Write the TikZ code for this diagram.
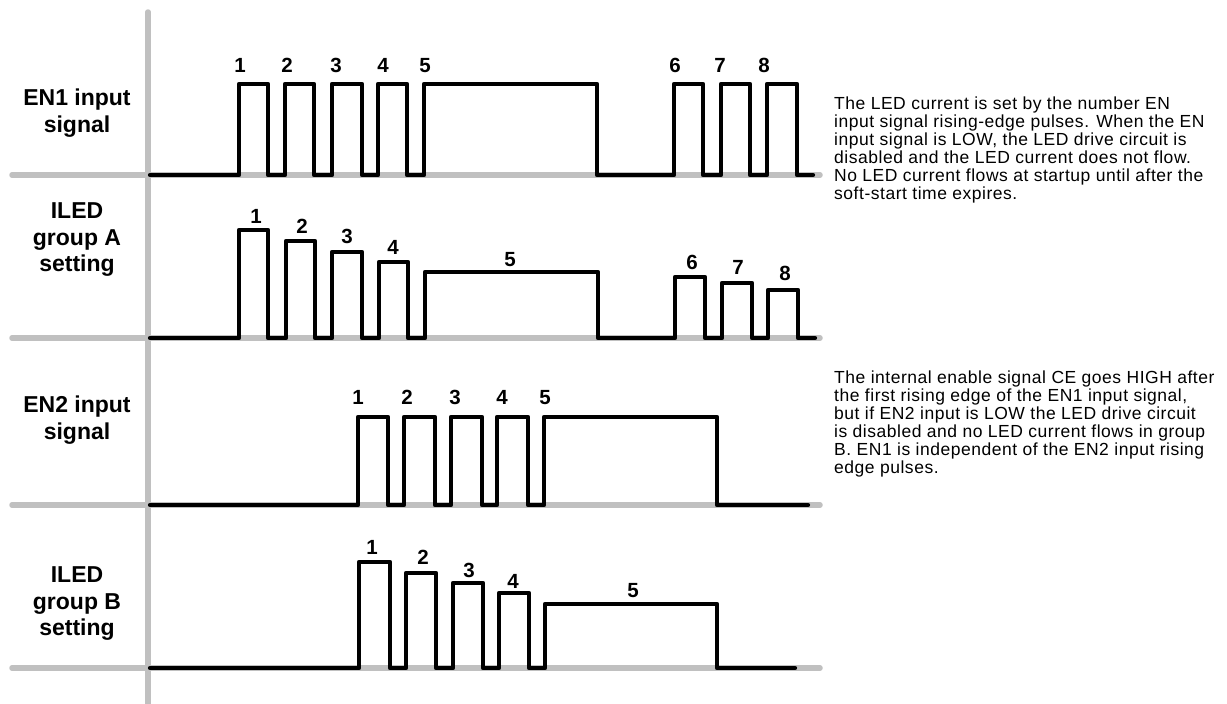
\documentclass[tikz,border=0pt]{standalone}
\usepackage{fontspec}
\setmainfont{Liberation Sans}
\newfontfamily\notefont[LetterSpace=3]{Liberation Sans}

\definecolor{railgray}{RGB}{192,192,192}

\tikzset{
  rail/.style={draw=railgray, line width=5.5pt, line cap=round},
  wave/.style={line width=4.2pt, line join=round, line cap=round},
  count/.style={font=\fontsize{20.5}{20.5}\selectfont\bfseries, inner sep=0pt, text height=14.7pt, text depth=0pt},
  rowname/.style={font=\fontsize{23}{26.5}\selectfont\bfseries, align=center, inner sep=0pt},
  note/.style={font=\notefont\fontsize{17.5}{18}\selectfont, align=left, inner sep=0pt, anchor=north west}
}

\begin{document}
\begin{tikzpicture}[x=1pt, y=-1pt]

	\useasboundingbox (0,0) rectangle (1227,704);

	% grey axis and rails
	\draw[rail] (148,12) -- (148,704);
	\draw[rail] (12,175) -- (820,175);
	\draw[rail] (12,338) -- (820,338);
	\draw[rail] (12,505) -- (820,505);
	\draw[rail] (12,668) -- (820,668);

	% EN1 input signal
	\draw[wave] (150,175) -- (239,175) -- (239,84) -- (268,84) -- (268,175)
		-- (285,175) -- (285,84) -- (314,84) -- (314,175)
		-- (332,175) -- (332,84) -- (362,84) -- (362,175)
		-- (378,175) -- (378,84) -- (407,84) -- (407,175)
		-- (424,175) -- (424,84) -- (597,84) -- (597,175)
		-- (674,175) -- (674,84) -- (703,84) -- (703,175)
		-- (721,175) -- (721,84) -- (750,84) -- (750,175)
		-- (767,175) -- (767,84) -- (797,84) -- (797,175) -- (813,175);

	% ILED group A
	\draw[wave] (150,338) -- (239,338) -- (239,230) -- (268,230) -- (268,338)
		-- (286,338) -- (286,241) -- (315,241) -- (315,338)
		-- (332,338) -- (332,252) -- (362,252) -- (362,338)
		-- (379,338) -- (379,262) -- (408,262) -- (408,338)
		-- (425,338) -- (425,272) -- (598,272) -- (598,338)
		-- (675,338) -- (675,277) -- (705,277) -- (705,338)
		-- (722,338) -- (722,283) -- (752,283) -- (752,338)
		-- (768,338) -- (768,290) -- (798,290) -- (798,338) -- (815,338);

	% EN2 input signal
	\draw[wave] (150,505) -- (358,505) -- (358,417) -- (388,417) -- (388,505)
		-- (404,505) -- (404,417) -- (435,417) -- (435,505)
		-- (451,505) -- (451,417) -- (482,417) -- (482,505)
		-- (497,505) -- (497,417) -- (528,417) -- (528,505)
		-- (544,505) -- (544,417) -- (717,417) -- (717,505) -- (808,505);

	% ILED group B
	\draw[wave] (150,668) -- (359,668) -- (359,562) -- (390,562) -- (390,668)
		-- (406,668) -- (406,573) -- (436,573) -- (436,668)
		-- (453,668) -- (453,583) -- (483,583) -- (483,668)
		-- (499,668) -- (499,593) -- (529,593) -- (529,668)
		-- (545,668) -- (545,604) -- (717,604) -- (717,668) -- (795,668);

	% pulse counts
	\draw (240,65) node[count] (p1a) {1};
	\draw (287,65) node[count] (p1b) {2};
	\draw (336,65) node[count] (p1c) {3};
	\draw (383,65) node[count] (p1d) {4};
	\draw (425,65) node[count] (p1e) {5};
	\draw (675,65) node[count] (p1f) {6};
	\draw (720,65) node[count] (p1g) {7};
	\draw (764,65) node[count] (p1h) {8};

	\draw (256,216) node[count] (p2a) {1};
	\draw (302,226) node[count] (p2b) {2};
	\draw (347,236) node[count] (p2c) {3};
	\draw (393,247) node[count] (p2d) {4};
	\draw (510,259) node[count] (p2e) {5};
	\draw (692,262) node[count] (p2f) {6};
	\draw (738,267) node[count] (p2g) {7};
	\draw (785,273) node[count] (p2h) {8};

	\draw (358,397) node[count] (p3a) {1};
	\draw (407,397) node[count] (p3b) {2};
	\draw (455,397) node[count] (p3c) {3};
	\draw (502,397) node[count] (p3d) {4};
	\draw (545,397) node[count] (p3e) {5};

	\draw (372,547) node[count] (p4a) {1};
	\draw (423,557) node[count] (p4b) {2};
	\draw (469,570) node[count] (p4c) {3};
	\draw (513,581) node[count] (p4d) {4};
	\draw (633,590) node[count] (p4e) {5};

	% row names
	\draw (77,113) node[rowname] (en1) {EN1 input\\signal};
	\draw (77,240) node[rowname] (leda) {ILED\\group A\\setting};
	\draw (77,420) node[rowname] (en2) {EN2 input\\signal};
	\draw (77,604) node[rowname] (ledb) {ILED\\group B\\setting};

	% notes
	\draw (834,97) node[note] (notea) {The LED current is set by the number EN\\
		input signal rising-edge pulses. When the EN\\
		input signal is LOW, the LED drive circuit is\\
		disabled and the LED current does not flow.\\
		No LED current flows at startup until after the\\
		soft-start time expires.};
	\draw (834,371) node[note] (noteb) {The internal enable signal CE goes HIGH after\\
		the first rising edge of the EN1 input signal,\\
		but if EN2 input is LOW the LED drive circuit\\
		is disabled and no LED current flows in group\\
		B. EN1 is independent of the EN2 input rising\\
		edge pulses.};

\end{tikzpicture}
\end{document}
